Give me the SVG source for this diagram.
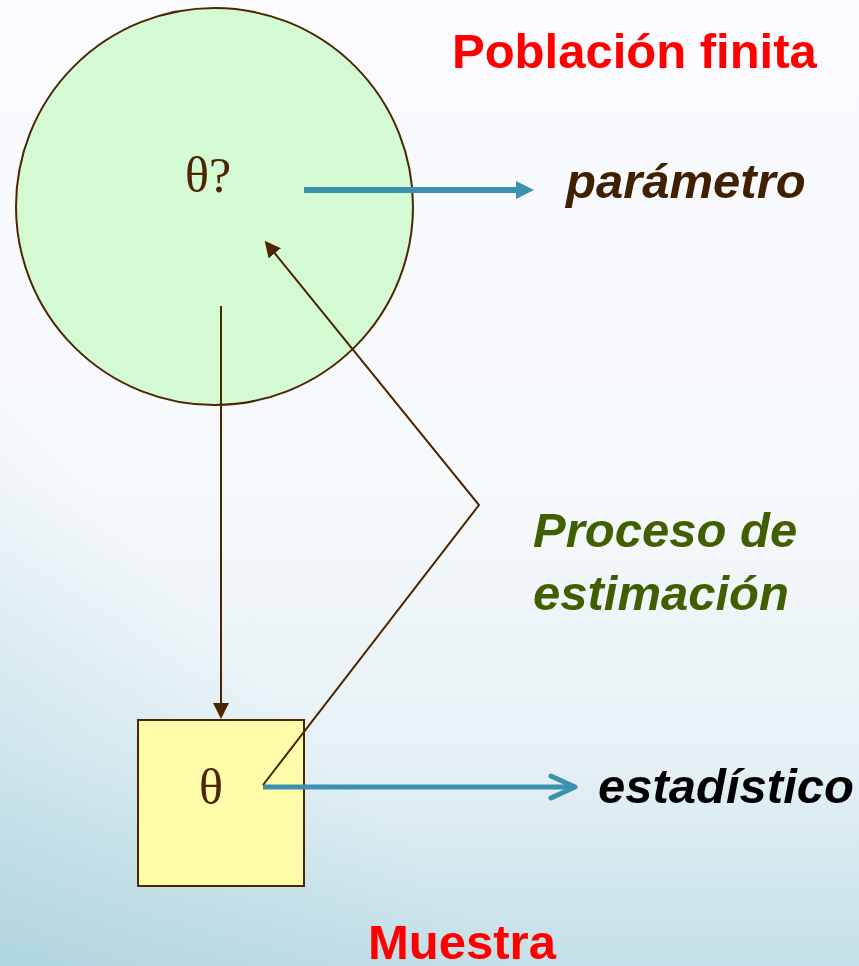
<svg xmlns="http://www.w3.org/2000/svg" width="859" height="966" viewBox="0 0 859 966">
<defs>
<linearGradient id="bg" x1="0" y1="0" x2="0" y2="1">
<stop offset="0" stop-color="#fafaff"/>
<stop offset="0.5" stop-color="#f6f9fb"/>
<stop offset="0.78" stop-color="#e6f1f5"/>
<stop offset="1" stop-color="#c4e0e8"/>
</linearGradient>
<linearGradient id="bg2" x1="0" y1="1" x2="0.3" y2="0.7">
<stop offset="0" stop-color="#9ccbd9" stop-opacity="0.5"/>
<stop offset="1" stop-color="#9ccbd9" stop-opacity="0"/>
</linearGradient>
<marker id="brownHead" markerUnits="userSpaceOnUse" markerWidth="16" markerHeight="16" refX="2" refY="8" orient="auto">
<path d="M0,0 L16,8 L0,16 Z" fill="#4d2600"/>
</marker>
<marker id="blueHead" markerUnits="userSpaceOnUse" markerWidth="18" markerHeight="18" refX="2" refY="9" orient="auto">
<path d="M0,0 L18,9 L0,18 Z" fill="#3a91b0"/>
</marker>
<style>
.lbl{font-family:"Liberation Sans",Arial,sans-serif;font-weight:bold;font-size:49px}
.it{font-style:italic}
.sym{font-family:"Liberation Serif","Times New Roman",serif;font-size:50px;fill:#4d2600}
.brown{stroke:#4d2600;stroke-width:2;fill:none}
.blue{stroke:#3a91b0;fill:none}
</style>
</defs>
<rect width="859" height="966" fill="url(#bg)"/>
<rect width="859" height="966" fill="url(#bg2)"/>

<g id="poblacion">
<circle cx="214.5" cy="206.5" r="198.5" fill="#d4fad4" stroke="#4d2600" stroke-width="2"/>
<text class="sym" x="185" y="192">θ?</text>
</g>

<g id="muestra">
<rect x="138" y="720" width="166" height="166" fill="#fffcaa" stroke="#4d2600" stroke-width="2"/>
<text class="sym" x="199" y="804">θ</text>
</g>

<g id="connectors">
<line class="blue" x1="304" y1="190" x2="518" y2="190" stroke-width="6" marker-end="url(#blueHead)"/>
<line class="blue" x1="263" y1="787" x2="573" y2="787" stroke-width="5"/>
<polyline class="blue" points="551,776 575,787 551,798" stroke-width="5" stroke-linecap="round" stroke-linejoin="round"/>
<line class="brown" x1="221" y1="306" x2="221" y2="705" marker-end="url(#brownHead)"/>
<polyline class="brown" points="263,785 479,505 273.5,251.7" marker-end="url(#brownHead)"/>
</g>

<g id="labels">
<text class="lbl" x="452" y="68" fill="#ff0000">Población finita</text>
<text class="lbl it" x="566" y="198" fill="#3f2000">parámetro</text>
<text class="lbl it" x="533" y="547" fill="#3f5f00">Proceso de</text>
<text class="lbl it" x="533" y="610" fill="#3f5f00">estimación</text>
<text class="lbl it" x="598" y="803" fill="#000000">estadístico</text>
<text class="lbl" x="368" y="959" fill="#ff0000">Muestra</text>
</g>
</svg>
